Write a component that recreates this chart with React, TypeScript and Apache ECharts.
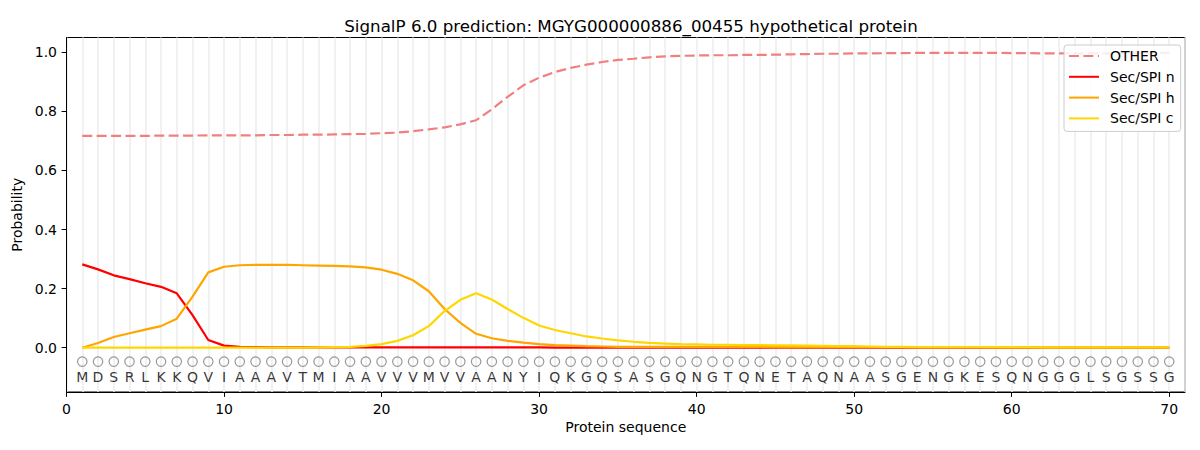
import React, { useEffect, useRef } from "react";
import * as echarts from "echarts";

const TITLE = "SignalP 6.0 prediction: MGYG000000886_00455 hypothetical protein";

const sequence = "M D S R L K K Q V I A A A V T M I A A V V V M V V A A N Y I Q K G Q S A S G Q N G T Q N E T A Q N A A S G E N G K E S Q N G G G L S G S S G".split(" ");

const positions = sequence.map((_, i) => i + 1);

const xTicks = [0, 10, 20, 30, 40, 50, 60, 70];
const yTicks = [0, 0.2, 0.4, 0.6, 0.8, 1.0];

const other = [
  0.717, 0.717, 0.717, 0.717, 0.717, 0.718, 0.718, 0.718, 0.719, 0.719,
  0.719, 0.719, 0.720, 0.720, 0.721, 0.721, 0.722, 0.723, 0.724, 0.726,
  0.728, 0.733, 0.739, 0.746, 0.756, 0.770, 0.807, 0.849, 0.888, 0.914,
  0.933, 0.947, 0.958, 0.967, 0.974, 0.978, 0.983, 0.986, 0.988, 0.989,
  0.990, 0.990, 0.991, 0.991, 0.992, 0.993, 0.994, 0.995, 0.995, 0.996,
  0.996, 0.997, 0.997, 0.998, 0.998, 0.998, 0.998, 0.998, 0.998, 0.997,
  0.997, 0.996, 0.996, 0.996, 0.996, 0.996, 0.997, 0.997, 0.998, 0.998,
];

const secN = [
  0.282, 0.265, 0.245, 0.232, 0.218, 0.206, 0.184, 0.110, 0.026, 0.007,
  0.003, 0.002, 0.001, 0.001, 0.001, 0.001, 0.001, 0.001, 0.001, 0.001,
  0.001, 0.001, 0.001, 0.001, 0.001, 0.001, 0.001, 0.001, 0.001, 0.001,
  0.000, 0.000, 0.000, 0.000, 0.000, 0.000, 0.000, 0.000, 0.000, 0.000,
  0.000, 0.000, 0.000, 0.000, 0.000, 0.000, 0.000, 0.000, 0.000, 0.000,
  0.000, 0.000, 0.000, 0.000, 0.000, 0.000, 0.000, 0.000, 0.000, 0.000,
  0.000, 0.000, 0.000, 0.000, 0.000, 0.000, 0.000, 0.000, 0.000, 0.000,
];

const secH = [
  0.000, 0.016, 0.036, 0.049, 0.061, 0.073, 0.098, 0.173, 0.255, 0.274,
  0.279, 0.280, 0.280, 0.280, 0.279, 0.278, 0.277, 0.275, 0.272, 0.264,
  0.250, 0.228, 0.191, 0.131, 0.084, 0.047, 0.032, 0.023, 0.017, 0.012,
  0.009, 0.007, 0.005, 0.004, 0.003, 0.003, 0.003, 0.003, 0.003, 0.003,
  0.003, 0.003, 0.003, 0.003, 0.002, 0.002, 0.002, 0.002, 0.002, 0.002,
  0.002, 0.002, 0.002, 0.002, 0.002, 0.002, 0.002, 0.002, 0.001, 0.001,
  0.001, 0.001, 0.001, 0.001, 0.001, 0.001, 0.001, 0.001, 0.001, 0.001,
];

const secC = [
  0.000, 0.000, 0.000, 0.000, 0.000, 0.000, 0.000, 0.000, 0.000, 0.000,
  0.000, 0.000, 0.000, 0.000, 0.000, 0.001, 0.002, 0.003, 0.006, 0.012,
  0.023, 0.042, 0.073, 0.124, 0.162, 0.184, 0.163, 0.131, 0.101, 0.075,
  0.060, 0.049, 0.038, 0.031, 0.025, 0.020, 0.016, 0.014, 0.012, 0.011,
  0.010, 0.010, 0.009, 0.009, 0.008, 0.008, 0.007, 0.006, 0.005, 0.005,
  0.004, 0.003, 0.003, 0.002, 0.002, 0.002, 0.002, 0.002, 0.002, 0.002,
  0.002, 0.001, 0.001, 0.001, 0.001, 0.001, 0.001, 0.001, 0.001, 0.001,
];

const CIRCLE_Y = -0.047;
const LETTER_Y = -0.099;

const FONT = "DejaVu Sans";

export default function App() {
  const ref = useRef<HTMLDivElement>(null);

  useEffect(() => {
    if (!ref.current) return;
    const chart = echarts.init(ref.current, undefined, { renderer: "svg" });

    const lineSeries = (name: string, values: number[], color: string, dashed: boolean) => ({
      name,
      type: "line",
      data: positions.map((p, i) => [p, values[i]]),
      symbol: "none",
      showSymbol: false,
      lineStyle: {
        color,
        width: 2.2,
        type: dashed ? [10, 4.4] : "solid",
      },
      itemStyle: { color },
      z: 3,
    });

    chart.setOption({
      animation: false,
      backgroundColor: "#ffffff",
      textStyle: { fontFamily: FONT },
      title: {
        text: TITLE,
        left: 626,
        textAlign: "center",
        top: 12,
        textStyle: { fontSize: 16.7, fontWeight: "normal", color: "#000", fontFamily: FONT },
      },
      grid: {
        left: 66.5,
        top: 37.5,
        right: 15,
        bottom: 58,
        show: true,
        borderColor: "#000",
        borderWidth: 1,
        backgroundColor: "transparent",
      },
      legend: {
        data: ["OTHER", "Sec/SPI n", "Sec/SPI h", "Sec/SPI c"],
        orient: "vertical",
        left: 1064,
        top: 45,
        itemWidth: 30,
        itemHeight: 14,
        itemGap: 6.8,
        padding: [4, 6, 6, 4],
        backgroundColor: "rgba(255,255,255,0.85)",
        borderColor: "#cccccc",
        borderWidth: 1,
        borderRadius: 3,
        itemStyle: { color: "rgba(0,0,0,0)", borderColor: "rgba(0,0,0,0)", borderWidth: 0, opacity: 0 },
        textStyle: { fontSize: 14, color: "#000", fontFamily: FONT, padding: [0, 0, 0, 6] },
      },
      xAxis: [
        {
          type: "value",
          min: 0,
          max: 71,
          interval: 10,
          name: "Protein sequence",
          nameLocation: "middle",
          nameGap: 27,
          nameTextStyle: { fontSize: 14, color: "#000", fontFamily: FONT },
          axisLine: { show: true, onZero: false, lineStyle: { color: "#000", width: 1 } },
          axisTick: { show: true, length: 4.9, lineStyle: { color: "#000" }, customValues: xTicks },
          axisLabel: {
            fontSize: 14,
            color: "#000",
            fontFamily: FONT,
            margin: 9.5,
            customValues: xTicks,
          },
          splitLine: { show: false },
        },
        {
          type: "value",
          min: 0,
          max: 71,
          interval: 1,
          position: "top",
          show: true,
          axisLine: { show: false },
          axisTick: { show: false },
          axisLabel: { show: false },
          splitLine: { show: true, lineStyle: { color: "#ededed", width: 1.5 } },
        },
      ],
      yAxis: {
        type: "value",
        min: -0.15,
        max: 1.05,
        name: "Probability",
        nameLocation: "middle",
        nameGap: 34,
        nameTextStyle: { fontSize: 14, color: "#000", fontFamily: FONT },
        axisLine: { show: true, onZero: false, lineStyle: { color: "#000", width: 1 } },
        axisTick: { show: true, length: 4.9, lineStyle: { color: "#000" }, customValues: yTicks },
        axisLabel: {
          fontSize: 14,
          color: "#000",
          fontFamily: FONT,
          margin: 9.5,
          customValues: yTicks,
          formatter: (v: number) => v.toFixed(1),
        },
        splitLine: { show: false },
      },
      series: [
        lineSeries("OTHER", other, "#f08080", true),
        lineSeries("Sec/SPI n", secN, "#ff0000", false),
        lineSeries("Sec/SPI h", secH, "#ffa500", false),
        lineSeries("Sec/SPI c", secC, "#ffd700", false),
        {
          name: "circles",
          type: "scatter",
          data: positions.map((p) => [p, CIRCLE_Y]),
          symbol: "circle",
          symbolSize: 9.5,
          itemStyle: { color: "rgba(0,0,0,0)", borderColor: "#808080", borderWidth: 1.2 },
          silent: true,
          z: 4,
        },
        {
          name: "letters",
          type: "scatter",
          data: positions.map((p, i) => [p, LETTER_Y, sequence[i]]),
          symbolSize: 1,
          itemStyle: { color: "rgba(0,0,0,0)" },
          label: {
            show: true,
            position: "inside",
            formatter: (params: any) => params.value[2],
            fontSize: 14,
            color: "#000",
            fontFamily: FONT,
          },
          silent: true,
          z: 4,
        },
      ],
    });

    return () => chart.dispose();
  }, []);

  return (
    <div
      ref={ref}
      style={{ width: 1200, height: 450, position: "absolute", left: 0, top: 0 }}
    />
  );
}
